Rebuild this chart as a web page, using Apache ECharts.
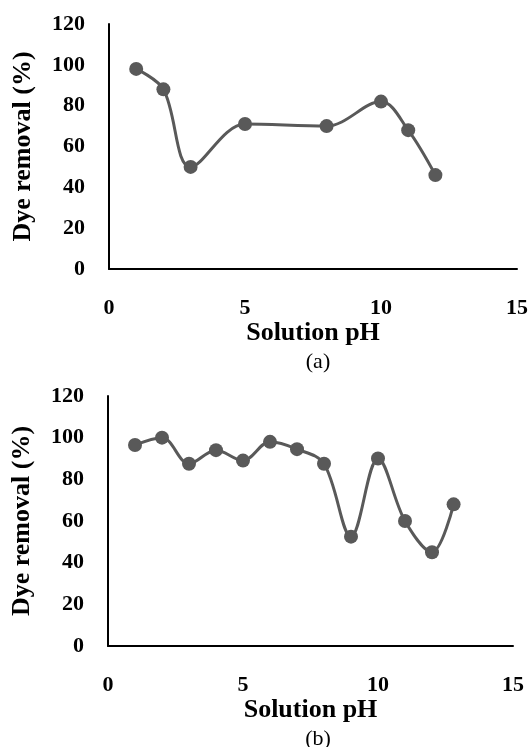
<!DOCTYPE html>
<html>
<head>
<meta charset="utf-8">
<script src="https://cdn.jsdelivr.net/npm/echarts@6/dist/echarts.min.js"></script>
<style>
  html, body { margin: 0; padding: 0; background: #fff; }
  #chart { width: 531px; height: 747px; }
</style>
</head>
<body>
<div id="chart"></div>
<script>
// data
const phA = [1, 2, 3, 5, 8, 10, 11, 12]
const removalA = [98, 88, 50, 71, 70, 82, 68, 46]

const phB = [1, 2, 3, 4, 5, 6, 7, 8, 9, 10, 11, 12, 12.8]
const removalB = [96.5, 100, 87.5, 94, 89, 98, 94.5, 87.5, 52.5, 90, 60, 45, 68]

const xTicks = [0, 5, 10, 15]
const yTicks = [0, 20, 40, 60, 80, 100, 120]
const panelLabels = ['(a)', '(b)']

const FONT = '"Liberation Serif", "Times New Roman", serif'
const GRAY = '#595959'

function pairs(xs, ys) {
  return xs.map((x, i) => [x, ys[i]])
}

// shared axis styles
function xAxisOf(gridIndex) {
  return {
    type: 'value',
    gridIndex,
    min: xTicks[0],
    max: xTicks[xTicks.length - 1],
    interval: 5,
    name: 'Solution pH',
    nameLocation: 'middle',
    nameGap: 43,
    nameTextStyle: { fontFamily: FONT, fontWeight: 'bold', fontSize: 26, color: '#000' },
    axisLine: { onZero: false, lineStyle: { color: '#000', width: 2 } },
    axisTick: { show: false },
    splitLine: { show: false },
    axisLabel: { margin: 28, fontFamily: FONT, fontWeight: 'bold', fontSize: 22, color: '#000' }
  }
}

function yAxisOf(gridIndex) {
  return {
    type: 'value',
    gridIndex,
    min: yTicks[0],
    max: yTicks[yTicks.length - 1],
    interval: 20,
    name: 'Dye removal (%)',
    nameLocation: 'middle',
    nameGap: 73,
    nameTextStyle: { fontFamily: FONT, fontWeight: 'bold', fontSize: 26, color: '#000' },
    axisLine: { show: true, lineStyle: { color: '#000', width: 2 } },
    axisTick: { show: false },
    splitLine: { show: false },
    axisLabel: { margin: 24, fontFamily: FONT, fontWeight: 'bold', fontSize: 22, color: '#000' }
  }
}

function seriesOf(idx, data) {
  return {
    type: 'line',
    xAxisIndex: idx,
    yAxisIndex: idx,
    data,
    smooth: 0.35,
    symbol: 'circle',
    symbolSize: 14,
    lineStyle: { color: GRAY, width: 3 },
    itemStyle: { color: GRAY },
    animation: false
  }
}

const chart = echarts.init(document.getElementById('chart'))

const option = {
  backgroundColor: '#fff',
  animation: false,
  title: [
    {
      text: panelLabels[0], left: 313, top: 346, textAlign: 'center',
      textStyle: { fontFamily: FONT, fontWeight: 'normal', fontSize: 22, color: '#000' }
    },
    {
      text: panelLabels[1], left: 313, top: 723, textAlign: 'center',
      textStyle: { fontFamily: FONT, fontWeight: 'normal', fontSize: 22, color: '#000' }
    }
  ],
  grid: [
    { left: 109, right: 14, top: 24, height: 245 },
    { left: 108, right: 18, top: 396, height: 250 }
  ],
  xAxis: [xAxisOf(0), xAxisOf(1)],
  yAxis: [yAxisOf(0), yAxisOf(1)],
  series: [
    seriesOf(0, pairs(phA, removalA)),
    seriesOf(1, pairs(phB, removalB))
  ]
}

chart.setOption(option)
</script>
</body>
</html>
